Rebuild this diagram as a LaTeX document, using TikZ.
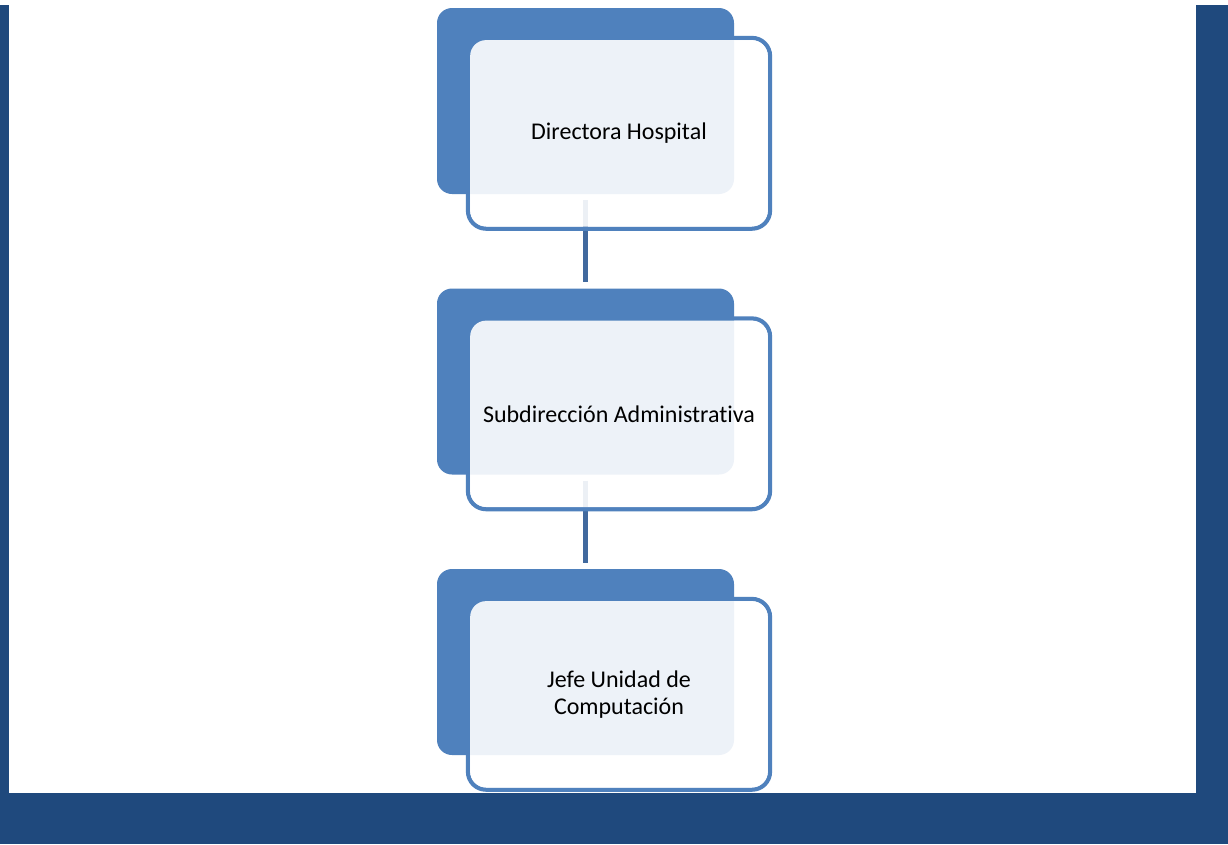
\documentclass[tikz,border=0pt]{standalone}
\usepackage{fontspec}
\setmainfont{Carlito}[Ligatures={NoCommon}]
\definecolor{frameblue}{HTML}{1F497D}
\definecolor{accent}{HTML}{4F81BD}
\definecolor{connblue}{HTML}{41699E}
\pgfdeclarelayer{bg}
\pgfsetlayers{bg,main}
\tikzset{
  backbox/.style={rectangle, rounded corners=11.25pt, fill=accent, minimum width=222.75pt, minimum height=139.5pt, inner sep=0pt},
  frontborder/.style={rectangle, rounded corners=13.5pt, draw=accent, line width=3.2pt, minimum width=226.5pt, minimum height=143pt, inner sep=0pt},
  frontfill/.style={rectangle, rounded corners=12pt, fill=white, fill opacity=0.9, text opacity=1, minimum width=223.3pt, minimum height=139.8pt, inner sep=0pt, align=center, font=\fontsize{18pt}{20.25pt}\selectfont},
  conn/.style={draw=connblue, line width=3.75pt, shorten <=4.5pt, shorten >=4.5pt}
}
\begin{document}
\begin{tikzpicture}[x=0.75pt,y=-0.75pt]
\useasboundingbox (0,0) rectangle (1228,844);
% box 1
\node[frontborder] (f1) at (619,133.3) {};
\node[backbox] (b1) at (585.5,101) {};
\node[frontfill] (t1) at (619,133.3) {Directora Hospital};
% box 2
\node[frontborder] (f2) at (619,413.8) {};
\node[backbox] (b2) at (585.5,381.5) {};
\node[frontfill] (t2) at (619,413.8) {Subdirección Administrativa};
% box 3
\node[frontborder] (f3) at (619,694.3) {};
\node[backbox] (b3) at (585.5,662) {};
\node[frontfill] (t3) at (619,694.3) {Jefe Unidad de\\Computación};
\begin{pgfonlayer}{bg}
% frame
\fill[white] (0,0) rectangle (1228,844);
\fill[frameblue] (0,5) rectangle (9,844);
\fill[frameblue] (1196,5) rectangle (1228,844);
\fill[frameblue] (0,793) rectangle (1228,844);
% connectors
\draw[conn] (b1.south) -- (b2.north);
\draw[conn] (b2.south) -- (b3.north);
\end{pgfonlayer}
\end{tikzpicture}
\end{document}
